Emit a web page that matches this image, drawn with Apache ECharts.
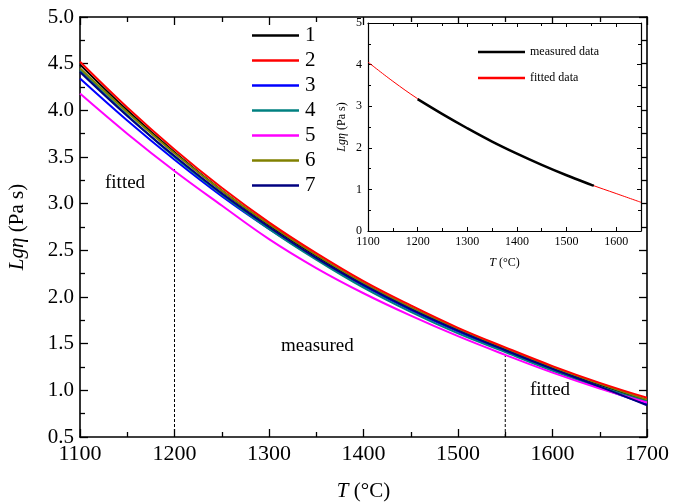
<!DOCTYPE html>
<html>
<head>
<meta charset="utf-8">
<script src="https://cdn.jsdelivr.net/npm/echarts@6/dist/echarts.min.js"></script>
<style>
  html, body { margin: 0; padding: 0; background: #fff; }
  #chart { width: 673px; height: 502px; }
</style>
</head>
<body>
<div id="chart"></div>
<script>
// temperatures (°C)
const temps = [1100, 1150, 1200, 1250, 1300, 1350, 1400, 1450, 1500, 1550, 1600, 1650, 1700];

// Lg(eta) for samples 1..7
const curve1 = [4.49, 4.00, 3.55, 3.14, 2.77, 2.44, 2.14, 1.88, 1.65, 1.44, 1.24, 1.06, 0.89];
const curve2 = [4.52, 4.03, 3.58, 3.17, 2.80, 2.47, 2.17, 1.91, 1.67, 1.46, 1.26, 1.08, 0.92];
const curve3 = [4.34, 3.89, 3.47, 3.08, 2.73, 2.41, 2.12, 1.86, 1.63, 1.42, 1.22, 1.03, 0.85];
const curve4 = [4.43, 3.95, 3.50, 3.10, 2.73, 2.40, 2.10, 1.84, 1.61, 1.41, 1.21, 1.04, 0.88];
const curve5 = [4.18, 3.75, 3.35, 2.98, 2.62, 2.31, 2.04, 1.80, 1.58, 1.38, 1.19, 1.02, 0.87];
const curve6 = [4.45, 3.98, 3.54, 3.14, 2.78, 2.45, 2.15, 1.89, 1.66, 1.45, 1.25, 1.07, 0.90];
const curve7 = [4.41, 3.94, 3.51, 3.11, 2.75, 2.42, 2.13, 1.87, 1.64, 1.43, 1.23, 1.04, 0.84];
const curveNames = ['1', '2', '3', '4', '5', '6', '7'];
const curveColors = ['#000000', '#ff0000', '#0000ff', '#008080', '#ff00ff', '#808000', '#000080'];

// dashed boundaries between fitted / measured ranges
const dashLeft = [[1200, 0.5], [1200, 3.37]];
const dashRight = [[1550, 0.5], [1550, 1.38]];

// inset: one sample, fitted over full range, measured in the middle
const insetTemps = [1100, 1150, 1200, 1250, 1300, 1350, 1400, 1450, 1500, 1550, 1600, 1650];
const insetFitted = [4.06, 3.60, 3.18, 2.81, 2.47, 2.15, 1.86, 1.59, 1.34, 1.11, 0.90, 0.69];
const measuredTemps = [1200, 1250, 1300, 1350, 1400, 1450, 1500, 1550, 1555];
const measuredVals = [3.17, 2.81, 2.47, 2.15, 1.86, 1.59, 1.34, 1.11, 1.09];

const serif = "'Liberation Serif', 'Times New Roman', serif";
const chart = echarts.init(document.getElementById('chart'));

const pair = (xs, ys) => xs.map((x, i) => [x, ys[i]]);
const curves = [curve1, curve2, curve3, curve4, curve5, curve6, curve7];
const plain = v => String(v);

const mainSeries = curves.map((ys, i) => ({
  name: curveNames[i],
  type: 'line',
  xAxisIndex: 0,
  yAxisIndex: 0,
  data: pair(temps, ys),
  smooth: 0.4,
  symbol: 'none',
  lineStyle: { color: curveColors[i], width: 2 },
  itemStyle: { color: curveColors[i] },
  z: i === 1 ? 3 : 2
}));

const dashStyle = { color: '#000', width: 1, type: [3, 2] };

const axisBase = (extra) => Object.assign({
  type: 'value',
  splitLine: { show: false },
  axisLine: { show: true, onZero: false, lineStyle: { color: '#000', width: 1.6 } },
  axisTick: { show: true, inside: true, length: 8, lineStyle: { color: '#000', width: 1.3 } },
  minorTick: { show: true, splitNumber: 2, length: 5, lineStyle: { color: '#000', width: 1.3 } },
  axisLabel: { color: '#000', fontFamily: serif, fontSize: 20 }
}, extra);

const insetLine = { show: true, onZero: false, lineStyle: { color: '#000', width: 1.2 } };
const insetTick = { show: true, inside: true, length: 4, lineStyle: { color: '#000', width: 1 } };
const insetMinor = { show: true, splitNumber: 2, length: 3, lineStyle: { color: '#000', width: 1 } };

const option = {
  animation: false,
  backgroundColor: '#fff',
  grid: [
    { left: 80, right: 26, top: 17, bottom: 65, outerBoundsMode: 'none', containLabel: false },
    { left: 368, top: 23, width: 273, height: 208, show: true, backgroundColor: '#fff', borderWidth: 0, z: 5,
      outerBoundsMode: 'none', containLabel: false }
  ],
  legend: [
    {
      data: curveNames,
      orient: 'vertical',
      left: 247,
      top: 20,
      icon: 'rect',
      itemWidth: 47,
      itemHeight: 2.5,
      itemGap: 4,
      textStyle: { fontFamily: serif, fontSize: 21, color: '#000', padding: [0, 0, 0, 1] }
    },
    {
      data: ['measured data', 'fitted data'],
      orient: 'vertical',
      left: 473,
      top: 41,
      icon: 'rect',
      itemWidth: 47,
      itemHeight: 2.5,
      itemGap: 14,
      textStyle: { fontFamily: serif, fontSize: 12, color: '#000' },
      z: 10
    }
  ],
  xAxis: [
    axisBase({
      gridIndex: 0, min: 1100, max: 1700, interval: 100, position: 'bottom',
      axisLabel: { color: '#000', fontFamily: serif, fontSize: 22, margin: 6, formatter: plain },
      name: '{i|T} (°C)',
      nameLocation: 'middle',
      nameGap: 44,
      nameTextStyle: {
        fontFamily: serif, fontSize: 21, color: '#000',
        rich: { i: { fontFamily: serif, fontSize: 21, fontStyle: 'italic', color: '#000' } }
      }
    }),
    axisBase({ gridIndex: 0, min: 1100, max: 1700, interval: 100, position: 'top', axisLabel: { show: false } }),
    axisBase({
      gridIndex: 1, min: 1100, max: 1650, interval: 100, position: 'bottom', z: 6,
      axisLine: insetLine, axisTick: insetTick, minorTick: insetMinor,
      axisLabel: { color: '#000', fontFamily: serif, fontSize: 12, margin: 5, showMaxLabel: false, formatter: plain },
      name: '{i|T} (°C)',
      nameLocation: 'middle',
      nameGap: 26,
      nameTextStyle: {
        fontFamily: serif, fontSize: 12, color: '#000',
        rich: { i: { fontFamily: serif, fontSize: 12, fontStyle: 'italic', color: '#000' } }
      }
    }),
    axisBase({
      gridIndex: 1, min: 1100, max: 1650, interval: 100, position: 'top', z: 6,
      axisLine: insetLine, axisTick: insetTick, minorTick: insetMinor,
      axisLabel: { show: false }
    })
  ],
  yAxis: [
    axisBase({
      gridIndex: 0, min: 0.5, max: 5, interval: 0.5, position: 'left',
      axisLabel: { color: '#000', fontFamily: serif, fontSize: 21, margin: 6, formatter: v => v.toFixed(1) },
      name: '{i|Lgη} (Pa s)',
      nameLocation: 'middle',
      nameGap: 52,
      nameRotate: 90,
      nameTextStyle: {
        fontFamily: serif, fontSize: 21, color: '#000',
        rich: { i: { fontFamily: serif, fontSize: 21, fontStyle: 'italic', color: '#000' } }
      }
    }),
    axisBase({ gridIndex: 0, min: 0.5, max: 5, interval: 0.5, position: 'right', axisLabel: { show: false } }),
    axisBase({
      gridIndex: 1, min: 0, max: 5, interval: 1, position: 'left', z: 6,
      axisLine: insetLine, axisTick: insetTick, minorTick: insetMinor,
      axisLabel: { color: '#000', fontFamily: serif, fontSize: 12, margin: 6, showMaxLabel: true },
      name: '{i|Lgη} (Pa s)',
      nameLocation: 'middle',
      nameGap: 20,
      nameRotate: 90,
      nameTextStyle: {
        fontFamily: serif, fontSize: 12, color: '#000',
        rich: { i: { fontFamily: serif, fontSize: 12, fontStyle: 'italic', color: '#000' } }
      }
    }),
    axisBase({
      gridIndex: 1, min: 0, max: 5, interval: 1, position: 'right', z: 6,
      axisLine: insetLine, axisTick: insetTick, minorTick: insetMinor,
      axisLabel: { show: false }
    })
  ],
  graphic: [
    { type: 'text', left: 105, top: 174, style: { text: 'fitted', fontFamily: serif, fontSize: 19, fill: '#000' } },
    { type: 'text', left: 281, top: 337, style: { text: 'measured', fontFamily: serif, fontSize: 19, fill: '#000' } },
    { type: 'text', left: 530, top: 381, style: { text: 'fitted', fontFamily: serif, fontSize: 19, fill: '#000' } }
  ],
  series: [
    {
      name: 'dashL', type: 'line', xAxisIndex: 0, yAxisIndex: 0, data: dashLeft,
      symbol: 'none', lineStyle: dashStyle, z: 1
    },
    {
      name: 'dashR', type: 'line', xAxisIndex: 0, yAxisIndex: 0, data: dashRight,
      symbol: 'none', lineStyle: dashStyle, z: 1
    },
    ...mainSeries,
    {
      name: 'fitted data', type: 'line', xAxisIndex: 2, yAxisIndex: 2,
      data: pair(insetTemps, insetFitted), smooth: 0.4, symbol: 'none',
      lineStyle: { color: '#ff0000', width: 1 }, itemStyle: { color: '#ff0000' }, z: 6
    },
    {
      name: 'measured data', type: 'line', xAxisIndex: 2, yAxisIndex: 2,
      data: pair(measuredTemps, measuredVals), smooth: 0.4, symbol: 'none',
      lineStyle: { color: '#000000', width: 2.5 }, itemStyle: { color: '#000000' }, z: 7
    }
  ]
};

chart.setOption(option);
</script>
</body>
</html>
